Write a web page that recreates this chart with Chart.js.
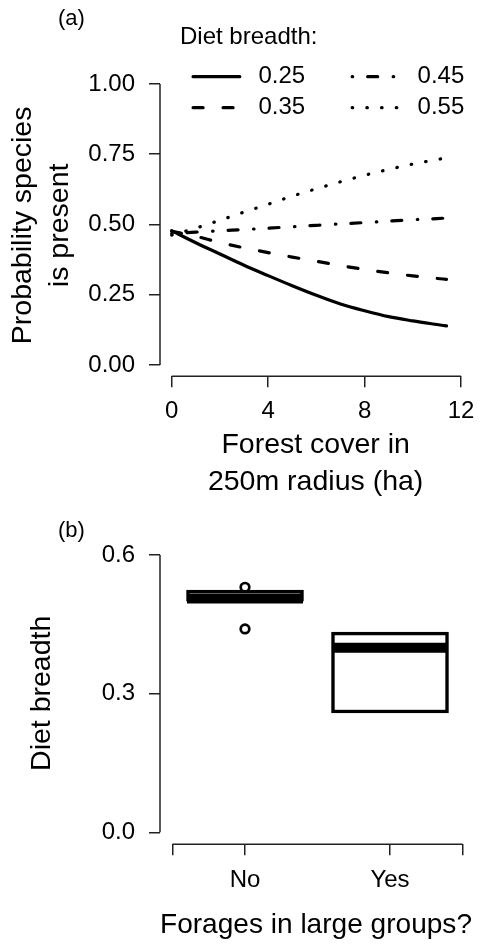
<!DOCTYPE html>
<html>
<head>
<meta charset="utf-8">
<script src="https://cdn.jsdelivr.net/npm/chart.js@4/dist/chart.umd.min.js"></script>
<style>
html, body { margin: 0; padding: 0; background: #fff; }
#wrap { position: relative; width: 485px; height: 947px; overflow: hidden; }
canvas { position: absolute; left: 0; }
#chartA { top: 0; }
#chartB { top: 500px; }
.tag { position: absolute; left: 58px; font: 22px 'Liberation Sans', Arial, sans-serif; line-height: 1; color: #000; }
</style>
</head>
<body>
<div id="wrap">
  <canvas id="chartA" width="485" height="500"></canvas>
  <canvas id="chartB" width="485" height="447"></canvas>
  <div class="tag" style="top:7px">(a)</div>
  <div class="tag" style="top:519px">(b)</div>
</div>
<script>
// panel (a): predicted presence vs forest cover, one curve per diet breadth
const forestCover = [0, 1, 2, 3, 4, 5, 6, 7, 8, 9, 10, 11, 11.4];
const dietLevels = ['0.25', '0.35', '0.45', '0.55'];
const prob025 = [0.478, 0.435, 0.395, 0.355, 0.318, 0.282, 0.248, 0.217, 0.193, 0.172, 0.157, 0.144, 0.139];
const prob035 = [0.476, 0.458, 0.436, 0.417, 0.400, 0.384, 0.369, 0.354, 0.340, 0.328, 0.317, 0.308, 0.305];
const prob045 = [0.468, 0.473, 0.478, 0.482, 0.487, 0.492, 0.497, 0.502, 0.507, 0.512, 0.517, 0.521, 0.523];
const prob055 = [0.462, 0.487, 0.515, 0.544, 0.572, 0.601, 0.627, 0.652, 0.675, 0.696, 0.715, 0.731, 0.737];
const xTicksA = [0, 4, 8, 12];
const xTickLabelsA = ['0', '4', '8', '12'];
const yTicksA = [0, 0.25, 0.5, 0.75, 1];
const yTickLabelsA = ['0.00', '0.25', '0.50', '0.75', '1.00'];

// panel (b): diet breadth boxplots
const groups = ['No', 'Yes'];
const boxQ1 = [0.500, 0.258];
const boxMedian = [0.506, 0.399];
const boxQ3 = [0.524, 0.433];
const outliers = [[0.530, 0.440], []];
const xTicksB = [0.5, 1, 2, 2.5];
const xTickLabelsB = ['', 'No', 'Yes', ''];
const yTicksB = [0, 0.3, 0.6];
const yTickLabelsB = ['0.0', '0.3', '0.6'];

const FONT = "'Liberation Sans', Arial, sans-serif";
const AXIS_COLOR = '#222';
Chart.defaults.font.family = FONT;
Chart.defaults.color = '#000';

// R style axis line: only between first and last tick
const axisLines = {
  id: 'axisLines',
  afterDraw(chart) {
    const { ctx, chartArea, scales: { x, y } } = chart;
    ctx.save();
    ctx.strokeStyle = AXIS_COLOR;
    ctx.lineWidth = 1.5;
    ctx.beginPath();
    ctx.moveTo(x.getPixelForValue(x.ticks[0].value), chartArea.bottom);
    ctx.lineTo(x.getPixelForValue(x.ticks[x.ticks.length - 1].value), chartArea.bottom);
    ctx.moveTo(chartArea.left, y.getPixelForValue(y.ticks[0].value));
    ctx.lineTo(chartArea.left, y.getPixelForValue(y.ticks[y.ticks.length - 1].value));
    ctx.stroke();
    ctx.restore();
  }
};

// legend takes almost no layout room (it sits over the top of the plot),
// so widen its clip box again once the layout is done
const legendOverlap = {
  id: 'legendOverlap',
  afterLayout(chart) {
    const lg = chart.legend;
    if (!lg) return;
    lg.height = 80;
    lg.bottom = lg.top + 80;
  }
};

const gridOpts = { drawOnChartArea: false, drawTicks: true, tickLength: 11, color: AXIS_COLOR, lineWidth: 1.5 };

const lineStyle = (dash) => ({
  borderColor: '#000',
  backgroundColor: '#000',
  borderWidth: 3.2,
  borderDash: dash,
  borderCapStyle: 'round',
  pointRadius: 0,
  fill: false,
  cubicInterpolationMode: 'monotone'
});
const toPoints = (vals) => vals.map((v, i) => ({ x: forestCover[i], y: v }));

// R fills the two-column legend by column
const legendOrder = [0, 2, 1, 3];

new Chart(document.getElementById('chartA'), {
  type: 'line',
  data: {
    datasets: [
      { label: dietLevels[0], data: toPoints(prob025), ...lineStyle([]) },
      { label: dietLevels[1], data: toPoints(prob035), ...lineStyle([10, 20]) },
      { label: dietLevels[2], data: toPoints(prob045), ...lineStyle([0.5, 15, 10, 15.5]) },
      { label: dietLevels[3], data: toPoints(prob055), ...lineStyle([0.5, 14.2]) }
    ]
  },
  options: {
    responsive: false,
    animation: false,
    events: [],
    layout: { padding: { left: 0, right: 13, top: 0, bottom: 0 } },
    plugins: {
      tooltip: { enabled: false },
      title: {
        display: true,
        text: '   Diet breadth:',
        align: 'start',
        fullSize: false,
        color: '#000',
        font: { size: 24, weight: 'normal', lineHeight: 1.2 },
        padding: { top: 22.9, bottom: 6 }
      },
      legend: {
        position: 'top',
        align: 'end',
        fullSize: false,
        maxHeight: 1,
        labels: {
          font: { size: 24 },
          color: '#000',
          usePointStyle: true,
          pointStyle: 'line',
          pointStyleWidth: 46.7,
          padding: 7,
          generateLabels: (chart) => Chart.defaults.plugins.legend.labels.generateLabels(chart).map(item => {
            const ds = chart.data.datasets[item.datasetIndex];
            return {
              ...item,
              text: ' ' + item.text + (item.datasetIndex < 2 ? '      ' : ''),
              lineDash: ds.borderDash,
              lineCap: ds.borderCapStyle,
              lineWidth: ds.borderWidth,
              strokeStyle: ds.borderColor
            };
          }),
          sort: (a, b) => legendOrder[a.datasetIndex] - legendOrder[b.datasetIndex]
        }
      }
    },
    scales: {
      x: {
        type: 'linear',
        min: -0.484,
        max: 12.425,
        bounds: 'data',
        afterBuildTicks: (s) => { s.ticks = xTicksA.map(v => ({ value: v })); },
        afterFit: (s) => { s.height = 123.8; },
        ticks: { callback: (v, i) => xTickLabelsA[i], font: { size: 24 }, padding: 10.2, maxRotation: 0, autoSkip: false },
        grid: gridOpts,
        border: { display: false },
        title: {
          display: true,
          text: ['Forest cover in', '250m radius (ha)'],
          font: { size: 28.5, lineHeight: 1.288 },
          padding: { top: 0, bottom: 0 }
        }
      },
      y: {
        type: 'linear',
        min: -0.0399,
        max: 1.09,
        bounds: 'data',
        afterBuildTicks: (s) => { s.ticks = yTicksA.map(v => ({ value: v })); },
        afterFit: (s) => { s.width = 160; },
        ticks: { callback: (v, i) => yTickLabelsA[i], font: { size: 24 }, padding: 14, autoSkip: false },
        grid: gridOpts,
        border: { display: false },
        title: {
          display: true,
          text: ['Probability species  ', 'is present  '],
          font: { size: 28.5, lineHeight: 1.288 },
          padding: { top: 5, bottom: 0 }
        }
      }
    }
  },
  plugins: [axisLines, legendOverlap]
});

// panel (b)
const BOX_HALF = 0.4;
const medianPoints = [];
groups.forEach((g, i) => {
  if (i > 0) medianPoints.push({ x: i + 0.5, y: null });
  medianPoints.push({ x: i + 1 - BOX_HALF, y: boxMedian[i] }, { x: i + 1 + BOX_HALF, y: boxMedian[i] });
});
const outlierPoints = [];
outliers.forEach((list, i) => list.forEach(v => outlierPoints.push({ x: i + 1, y: v })));

new Chart(document.getElementById('chartB'), {
  type: 'bar',
  data: {
    datasets: [
      {
        type: 'bar',
        label: 'box',
        order: 3,
        data: groups.map((g, i) => ({ x: i + 1, y: [boxQ1[i], boxQ3[i]] })),
        backgroundColor: '#fff',
        borderColor: '#000',
        borderWidth: 3.5,
        borderSkipped: false,
        barThickness: 117
      },
      {
        type: 'line',
        label: 'median',
        order: 2,
        data: medianPoints,
        borderColor: '#000',
        borderWidth: 10,
        borderCapStyle: 'butt',
        pointRadius: 0,
        spanGaps: false,
        fill: false
      },
      {
        type: 'scatter',
        label: 'outliers',
        order: 1,
        data: outlierPoints,
        pointStyle: 'circle',
        pointRadius: 4.3,
        borderWidth: 2.7,
        borderColor: '#000',
        backgroundColor: 'rgba(0,0,0,0)'
      }
    ]
  },
  options: {
    responsive: false,
    animation: false,
    events: [],
    layout: { padding: { left: 0, right: 13, top: 42.3, bottom: 0 } },
    plugins: { legend: { display: false }, tooltip: { enabled: false } },
    scales: {
      x: {
        type: 'linear',
        min: 0.4138,
        max: 2.5655,
        offset: false,
        bounds: 'data',
        afterBuildTicks: (s) => { s.ticks = xTicksB.map(v => ({ value: v })); },
        afterFit: (s) => { s.height = 102.7; },
        ticks: { callback: (v, i) => xTickLabelsB[i], font: { size: 24 }, padding: 10.4, maxRotation: 0, autoSkip: false },
        grid: { ...gridOpts, offset: false },
        border: { display: false },
        title: {
          display: true,
          text: 'Forages in large groups?',
          font: { size: 28.5, lineHeight: 1.288 },
          padding: { top: 0, bottom: 3.65 }
        }
      },
      y: {
        type: 'linear',
        min: -0.026,
        max: 0.6274,
        bounds: 'data',
        afterBuildTicks: (s) => { s.ticks = yTicksB.map(v => ({ value: v })); },
        afterFit: (s) => { s.width = 160; },
        ticks: { callback: (v, i) => yTickLabelsB[i], font: { size: 24 }, padding: 14, autoSkip: false },
        grid: gridOpts,
        border: { display: false },
        title: {
          display: true,
          text: 'Diet breadth',
          font: { size: 28.5, lineHeight: 1.288 },
          padding: { top: 24.1, bottom: 0 }
        }
      }
    }
  },
  plugins: [axisLines]
});
</script>
</body>
</html>
